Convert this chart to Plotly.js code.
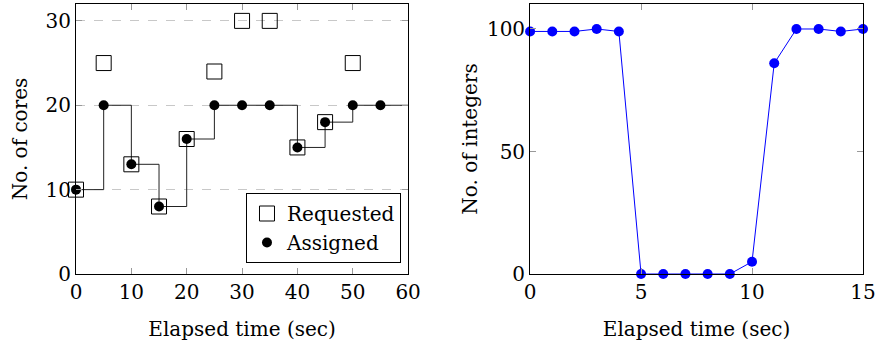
<!DOCTYPE html>
<html>
<head>
<meta charset="utf-8">
<script src="https://cdn.plot.ly/plotly-3.0.1.min.js"></script>
<style>html,body{margin:0;padding:0;background:#fff;} #chart{width:875px;height:350px;}</style>
</head>
<body>
<div id="chart"></div>
<script>
// Left chart data
const coreTimes = [0, 5, 10, 15, 20, 25, 30, 35, 40, 45, 50, 55];
const requestedTimes = [0, 5, 10, 15, 20, 25, 30, 35, 40, 45, 50];
const requestedCores = [10, 25, 13, 8, 16, 24, 30, 30, 15, 18, 25];
const assignedCores = [10, 20, 13, 8, 16, 20, 20, 20, 15, 18, 20, 20];
const coreAxisEnd = 60;
const coreXTicks = [0, 10, 20, 30, 40, 50, 60];
const coreYTicks = [0, 10, 20, 30];

// Right chart data
const intTimes = [0, 1, 2, 3, 4, 5, 6, 7, 8, 9, 10, 11, 12, 13, 14, 15];
const intCounts = [99, 99, 99, 100, 99, 0, 0, 0, 0, 0, 5, 86, 100, 100, 99, 100];
const intXTicks = [0, 5, 10, 15];
const intYTicks = [0, 50, 100];

const FONT = "DejaVu Serif";
const FS = 20;

// step line continues to end of axis
const stepX = coreTimes.concat([coreAxisEnd]);
const stepY = assignedCores.concat([assignedCores[assignedCores.length - 1]]);

const traces = [
  {x: stepX, y: stepY, type: 'scatter', mode: 'lines', line: {shape: 'hv', color: '#222', width: 1},
   showlegend: false, hoverinfo: 'skip', xaxis: 'x', yaxis: 'y', cliponaxis: false},
  {x: requestedTimes, y: requestedCores, type: 'scatter', mode: 'markers', name: 'Requested', cliponaxis: false,
   marker: {symbol: 'square-open', size: 15, color: '#000', line: {color: '#000', width: 1}}, xaxis: 'x', yaxis: 'y'},
  {x: coreTimes, y: assignedCores, type: 'scatter', mode: 'markers', name: 'Assigned', cliponaxis: false,
   marker: {symbol: 'circle', size: 10, color: '#000'}, xaxis: 'x', yaxis: 'y'},
  {x: intTimes, y: intCounts, type: 'scatter', mode: 'lines+markers', showlegend: false, cliponaxis: false,
   line: {color: '#0000ff', width: 1}, marker: {symbol: 'circle', size: 10, color: '#0000ff'},
   xaxis: 'x2', yaxis: 'y2'}
];

const axisCommon = {
  showline: true, linecolor: '#000', linewidth: 1, mirror: 'ticks',
  ticks: 'inside', ticklen: 6, tickcolor: '#999', tickwidth: 1,
  zeroline: false, tickfont: {family: FONT, size: FS, color: '#000'},
  ticklabeloverflow: 'allow', fixedrange: true
};

const layout = {
  width: 875, height: 350,
  margin: {l: 76, r: 12, t: 4, b: 76},
  paper_bgcolor: '#fff', plot_bgcolor: '#fff',
  font: {family: FONT, size: FS, color: '#000'},
  showlegend: true,
  legend: {x: 0.216, y: 0.30, xanchor: 'left', yanchor: 'top', bgcolor: '#fff',
           bordercolor: '#000', borderwidth: 1, font: {family: FONT, size: FS, color: '#000'},
           tracegroupgap: 0, itemwidth: 30},
  xaxis: Object.assign({}, axisCommon, {domain: [0, 0.422], range: [0, coreAxisEnd], tickvals: coreXTicks,
          showgrid: false, anchor: 'y',
          title: {text: 'Elapsed time (sec)', font: {family: FONT, size: FS}, standoff: 18}}),
  yaxis: Object.assign({}, axisCommon, {range: [0, 32], tickvals: coreYTicks, anchor: 'x',
          showgrid: true, gridcolor: '#c8c8c8', griddash: 'dash', gridwidth: 1,
          title: {text: 'No. of cores', font: {family: FONT, size: FS}, standoff: 12}}),
  xaxis2: Object.assign({}, axisCommon, {domain: [0.577, 1], range: [0, 15], tickvals: intXTicks,
          showgrid: false, anchor: 'y2',
          title: {text: 'Elapsed time (sec)', font: {family: FONT, size: FS}, standoff: 18}}),
  yaxis2: Object.assign({}, axisCommon, {range: [0, 110.2], tickvals: intYTicks, anchor: 'x2',
          showgrid: false,
          title: {text: 'No. of integers', font: {family: FONT, size: FS}, standoff: 3}})
};

Plotly.newPlot('chart', traces, layout, {displayModeBar: false, staticPlot: true});
</script>
</body>
</html>
